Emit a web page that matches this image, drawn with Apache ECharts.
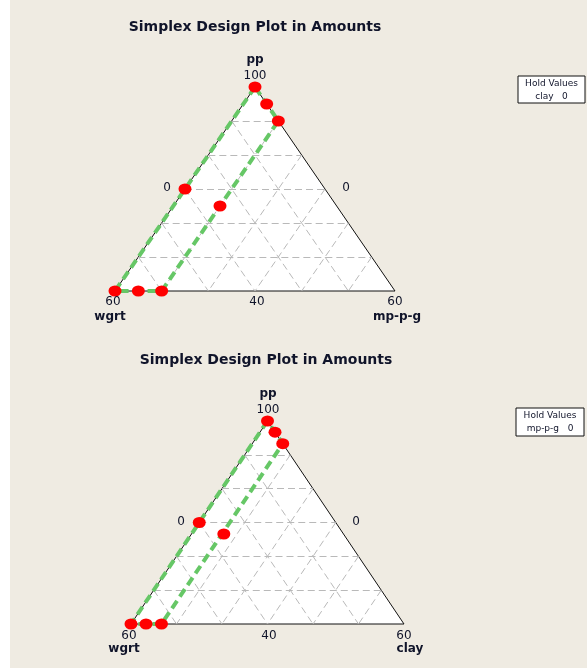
<!DOCTYPE html>
<html>
<head>
<meta charset="utf-8">
<script src="https://cdn.jsdelivr.net/npm/echarts@6/dist/echarts.min.js"></script>
<style>
  html, body { margin: 0; padding: 0; background: #fff; }
  #main { width: 587px; height: 668px; }
</style>
</head>
<body>
<div id="main"></div>
<script>
// design points in amounts (pp + wgrt + third = 100), third = mp-p-g (top) / clay (bottom)
var ppTop   = [100, 95, 90, 70, 65, 40, 40, 40];
var wgrtTop = [0, 0, 0, 30, 25, 60, 55, 50];
var mpgTop  = [0, 5, 10, 0, 10, 0, 5, 10];

var ppBot   = [100, 96.7, 93.3, 70, 66.6, 40, 40, 40];
var wgrtBot = [0, 0, 0, 30, 26.3, 60, 56.7, 53.3];
var clayBot = [0, 3.3, 6.7, 0, 7.1, 0, 3.3, 6.7];

// constraint region outline (green dashed)
var regPpTop   = [100, 40, 40, 90, 100];
var regWgrtTop = [0, 60, 50, 0, 0];
var regMpgTop  = [0, 0, 10, 10, 0];

var regPpBot   = [100, 40, 40, 93.3, 100];
var regWgrtBot = [0, 60, 53.3, 0, 0];
var regClayBot = [0, 0, 6.7, 6.7, 0];

var gridLevels = [10, 20, 30, 40, 50];  // amounts for gridlines

// pseudo-component projection: pp 40..100 at the apex, other two 0..60
function proj(pp, w, c) {
  var a = (pp - 40) / 60, r = c / 60;
  return [r + a * 0.5, a];
}

function pts(pp, w, c) {
  return pp.map(function (v, i) { return proj(v, w[i], c[i]); });
}

function gridSegs() {
  var segs = [];
  gridLevels.forEach(function (g) {
    // pp constant
    var p = 40 + g;
    segs.push({ coords: [proj(p, 100 - p, 0), proj(p, 0, 100 - p)] });
    // wgrt constant
    segs.push({ coords: [proj(100 - g, g, 0), proj(40, g, 60 - g)] });
    // third component constant
    segs.push({ coords: [proj(100 - g, 0, g), proj(40, 60 - g, g)] });
  });
  return segs;
}

var myChart = echarts.init(document.getElementById('main'));

var panels = [
  { left: 115, top: 87, width: 280, height: 204,
    pp: ppTop, w: wgrtTop, c: mpgTop,
    rp: regPpTop, rw: regWgrtTop, rc: regMpgTop },
  { left: 131, top: 421, width: 273, height: 203,
    pp: ppBot, w: wgrtBot, c: clayBot,
    rp: regPpBot, rw: regWgrtBot, rc: regClayBot }
];

var grids = [], xAxes = [], yAxes = [], series = [];
panels.forEach(function (p, k) {
  grids.push({ left: p.left, top: p.top, width: p.width, height: p.height });
  xAxes.push({ gridIndex: k, type: 'value', min: 0, max: 1, show: false });
  yAxes.push({ gridIndex: k, type: 'value', min: 0, max: 1, show: false });

  // white triangle with outline
  series.push({
    type: 'custom', xAxisIndex: k, yAxisIndex: k, silent: true, z: 1,
    data: [[0, 0]],
    renderItem: function (params, api) {
      return {
        type: 'polygon',
        shape: { points: [api.coord([0, 0]), api.coord([1, 0]), api.coord([0.5, 1])] },
        style: { fill: '#ffffff', stroke: '#111', lineWidth: 1 }
      };
    }
  });

  series.push({
    type: 'lines', coordinateSystem: 'cartesian2d', xAxisIndex: k, yAxisIndex: k,
    silent: true, z: 2,
    lineStyle: { color: '#b9b9b9', width: 1, type: [7, 4], opacity: 1 },
    data: gridSegs()
  });

  series.push({
    type: 'line', xAxisIndex: k, yAxisIndex: k, z: 3,
    symbol: 'none',
    lineStyle: { color: '#66c766', width: 4, type: [9, 5] },
    data: pts(p.rp, p.rw, p.rc)
  });

  series.push({
    type: 'scatter', xAxisIndex: k, yAxisIndex: k, z: 4,
    symbol: 'circle', symbolSize: [13, 11],
    itemStyle: { color: '#ff0000', opacity: 1 },
    data: pts(p.pp, p.w, p.c)
  });
});

function txt(x, y, s, bold, size) {
  return {
    type: 'text', x: x, y: y, z: 10,
    style: {
      text: s, fill: '#10142a', align: 'center', verticalAlign: 'middle',
      font: (bold ? 'bold ' : '') + (size || 12) + 'px "DejaVu Sans", Verdana, sans-serif'
    }
  };
}

function holdBox(x, y, w, h, line2) {
  return [
    { type: 'rect', z: 10, shape: { x: x, y: y, width: w, height: h },
      style: { fill: '#fff', stroke: '#111', lineWidth: 1 } },
    txt(x + w / 2, y + 8, 'Hold Values', false, 9),
    txt(x + w / 2, y + 21, line2, false, 9)
  ];
}

var graphics = [
  { type: 'rect', z: -10, shape: { x: 10, y: 0, width: 577, height: 668 },
    style: { fill: '#efebe2' } },
  txt(255, 27, 'Simplex Design Plot in Amounts', true, 14),
  txt(255, 60, 'pp', true, 12),
  txt(255, 76, '100', false, 12),
  txt(167, 188, '0', false, 12),
  txt(346, 188, '0', false, 12),
  txt(113, 302, '60', false, 12),
  txt(110, 317, 'wgrt', true, 12),
  txt(257, 302, '40', false, 12),
  txt(395, 302, '60', false, 12),
  txt(397, 317, 'mp-p-g', true, 12),

  txt(266, 360, 'Simplex Design Plot in Amounts', true, 14),
  txt(268, 394, 'pp', true, 12),
  txt(268, 410, '100', false, 12),
  txt(181, 522, '0', false, 12),
  txt(356, 522, '0', false, 12),
  txt(129, 636, '60', false, 12),
  txt(124, 649, 'wgrt', true, 12),
  txt(269, 636, '40', false, 12),
  txt(404, 636, '60', false, 12),
  txt(410, 649, 'clay', true, 12)
].concat(holdBox(518, 76, 67, 27, 'clay   0'))
 .concat(holdBox(516, 408, 68, 28, 'mp-p-g   0'));

myChart.setOption({
  backgroundColor: '#ffffff',
  animation: false,
  grid: grids,
  xAxis: xAxes,
  yAxis: yAxes,
  graphic: graphics,
  series: series
});
</script>
</body>
</html>
